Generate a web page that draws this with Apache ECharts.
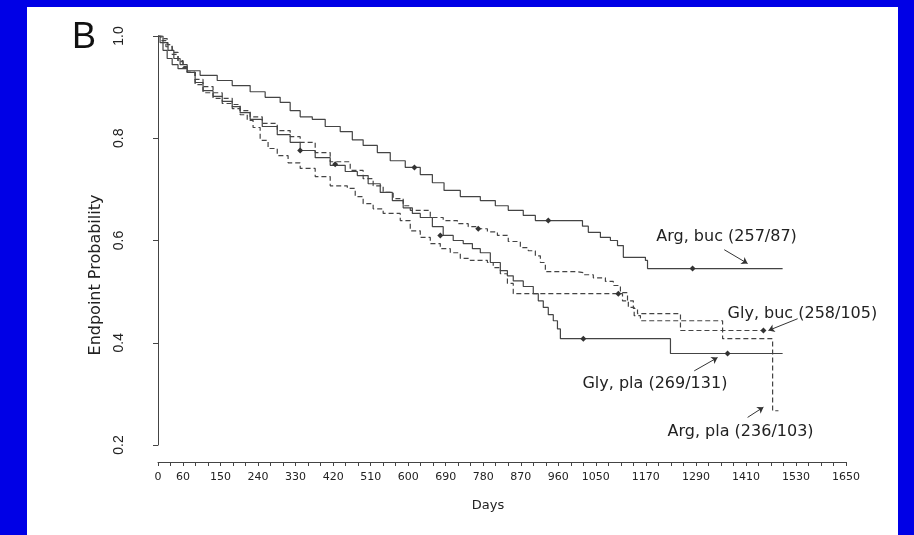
<!DOCTYPE html>
<html>
<head>
<meta charset="utf-8">
<title>Endpoint Probability - B</title>
<script src="https://cdn.jsdelivr.net/npm/echarts/dist/echarts.min.js"></script>
<style>
  html, body { margin: 0; padding: 0; background: #0000e6; }
  #panel { position: absolute; left: 27px; top: 7px; width: 871px; height: 528px; background: #fff; }
  #container { position: absolute; left: 0; top: 0; width: 914px; height: 535px; }
</style>
</head>
<body>
<div id="panel"></div>
<div id="container"></div>
<script>
// Kaplan-Meier curves, [day, probability]
const argBuc = [[0,1.0],[12,0.987],[24,0.972],[38,0.956],[53,0.944],[70,0.932],[101,0.923],[142,0.913],[178,0.903],[221,0.891],[257,0.880],[293,0.870],[317,0.854],[341,0.842],[370,0.837],[401,0.823],[437,0.813],[466,0.797],[492,0.786],[526,0.772],[557,0.756],[593,0.743],[629,0.729],[658,0.713],[686,0.698],[725,0.686],[773,0.678],[809,0.668],[840,0.659],[876,0.649],[905,0.639],[1018,0.628],[1032,0.616],[1061,0.606],[1085,0.600],[1102,0.590],[1116,0.567],[1169,0.561],[1174,0.545],[1498,0.545]];

const glyBuc = [[0,1.0],[7,0.991],[19,0.979],[34,0.964],[48,0.950],[60,0.938],[70,0.929],[89,0.915],[108,0.901],[132,0.889],[154,0.878],[178,0.866],[197,0.854],[221,0.842],[250,0.829],[286,0.815],[317,0.803],[341,0.792],[377,0.772],[413,0.754],[461,0.737],[492,0.721],[516,0.707],[540,0.694],[564,0.682],[588,0.668],[605,0.659],[653,0.645],[684,0.639],[718,0.633],[744,0.627],[768,0.623],[790,0.617],[814,0.610],[840,0.598],[869,0.586],[888,0.580],[905,0.570],[917,0.557],[929,0.539],[1006,0.537],[1020,0.533],[1044,0.527],[1073,0.520],[1092,0.512],[1109,0.498],[1126,0.482],[1140,0.467],[1150,0.457],[1253,0.424],[1462,0.424]];

const glyPla = [[0,1.0],[5,0.987],[12,0.972],[22,0.956],[34,0.944],[48,0.936],[70,0.929],[89,0.909],[108,0.893],[132,0.882],[154,0.872],[178,0.862],[197,0.850],[221,0.837],[250,0.823],[286,0.807],[317,0.792],[341,0.776],[377,0.762],[413,0.747],[449,0.735],[478,0.727],[504,0.711],[533,0.694],[562,0.678],[588,0.664],[610,0.653],[629,0.645],[658,0.627],[684,0.610],[708,0.600],[732,0.594],[754,0.584],[773,0.576],[797,0.557],[821,0.541],[838,0.531],[852,0.521],[876,0.510],[900,0.496],[912,0.482],[924,0.469],[936,0.455],[948,0.443],[958,0.427],[965,0.408],[1229,0.379],[1498,0.379]];

const argPla = [[0,1.0],[10,0.995],[22,0.983],[34,0.968],[48,0.952],[60,0.940],[70,0.929],[89,0.905],[108,0.889],[132,0.878],[154,0.868],[178,0.858],[197,0.846],[214,0.835],[228,0.821],[245,0.796],[264,0.780],[286,0.766],[312,0.752],[341,0.741],[377,0.725],[413,0.707],[454,0.702],[473,0.686],[492,0.672],[516,0.662],[540,0.653],[581,0.639],[605,0.619],[629,0.606],[653,0.594],[677,0.584],[701,0.576],[725,0.565],[749,0.561],[790,0.557],[804,0.547],[821,0.535],[838,0.516],[852,0.496],[1114,0.482],[1128,0.469],[1142,0.453],[1157,0.443],[1354,0.408],[1474,0.267],[1488,0.267]];

// censoring marks
const censorMarks = [[341,0.776],[425,0.749],[615,0.743],[677,0.610],[768,0.623],[936,0.639],[1020,0.408],[1104,0.496],[1282,0.545],[1366,0.379],[1452,0.424]];

// curve labels and their arrows
const noteLabels = ['Arg, buc (257/87)', 'Gly, buc (258/105)', 'Gly, pla (269/131)', 'Arg, pla (236/103)'];
const notePos = [[1195,0.608],[1366,0.457],[1018,0.320],[1222,0.226]];
const arrowFrom = [[1358,0.582],[1534,0.447],[1286,0.345],[1414,0.254]];
const arrowTo = [[1414,0.555],[1464,0.424],[1342,0.371],[1452,0.274]];

const dayTicks = [0,60,150,240,330,420,510,600,690,780,870,960,1050,1170,1290,1410,1530,1650];

const lineGrey = '#444';
const textGrey = '#222';

function kmSeries(name, data, dashed) {
    return {
        name: name,
        type: 'line',
        step: 'end',
        data: data,
        showSymbol: false,
        silent: true,
        lineStyle: { color: lineGrey, width: 1.2, type: dashed ? [5, 3] : 'solid' },
        z: 3
    };
}

const chart = echarts.init(document.getElementById('container'), null, { renderer: 'canvas' });

const option = {
    animation: false,
    backgroundColor: 'transparent',
    grid: { left: 158, right: 68, top: 36, bottom: 90 },
    xAxis: {
        type: 'value',
        min: 0,
        max: 1650,
        interval: 30,
        offset: 17,
        axisLine: { lineStyle: { color: '#444', width: 1 } },
        axisTick: { length: 4, lineStyle: { color: '#444' } },
        splitLine: { show: false },
        axisLabel: {
            margin: 10,
            color: textGrey,
            fontFamily: 'DejaVu Sans',
            fontSize: 11,
            formatter: v => dayTicks.includes(v) ? String(v) : ''
        }
    },
    yAxis: {
        type: 'value',
        min: 0.2,
        max: 1.0,
        interval: 0.2,
        offset: 21,
        axisLine: { show: true, lineStyle: { color: '#444', width: 1 } },
        axisTick: { show: true, length: 5, lineStyle: { color: '#444' } },
        splitLine: { show: false },
        axisLabel: {
            rotate: 90,
            margin: 11,
            color: textGrey,
            fontFamily: 'Liberation Sans',
            fontSize: 14,
            formatter: v => v.toFixed(1)
        }
    },
    graphic: [
        { type: 'text', left: 72, top: 20, style: { text: 'B', font: '36px "Liberation Sans"', fill: '#111' } },
        { type: 'text', x: 96, y: 275, rotation: Math.PI / 2,
          style: { text: 'Endpoint Probability', font: '16px "DejaVu Sans"', fill: textGrey, align: 'center', verticalAlign: 'middle' } },
        { type: 'text', x: 488, y: 506,
          style: { text: 'Days', font: '13px "DejaVu Sans"', fill: textGrey, align: 'center', verticalAlign: 'middle' } }
    ],
    series: [
        kmSeries('Arg, buc', argBuc, false),
        kmSeries('Gly, buc', glyBuc, true),
        kmSeries('Gly, pla', glyPla, false),
        kmSeries('Arg, pla', argPla, true),
        {
            name: 'censored',
            type: 'scatter',
            data: censorMarks,
            symbol: 'diamond',
            symbolSize: 6,
            itemStyle: { color: '#333', opacity: 1 },
            silent: true,
            z: 4
        },
        {
            name: 'notes',
            type: 'scatter',
            data: noteLabels.map((t, i) => ({ name: t, value: notePos[i] })),
            symbolSize: 0,
            silent: true,
            itemStyle: { opacity: 1 },
            label: {
                show: true,
                position: [0, 0],
                align: 'left',
                verticalAlign: 'middle',
                formatter: '{b}',
                color: textGrey,
                fontFamily: 'DejaVu Sans',
                fontSize: 16
            },
            markLine: {
                silent: true,
                symbol: ['none', 'arrow'],
                symbolSize: 6,
                label: { show: false },
                lineStyle: { color: '#333', width: 1, type: 'solid' },
                data: arrowFrom.map((p, i) => [{ coord: p }, { coord: arrowTo[i] }])
            }
        }
    ]
};

chart.setOption(option);
window.addEventListener('resize', () => chart.resize());
</script>
</body>
</html>
